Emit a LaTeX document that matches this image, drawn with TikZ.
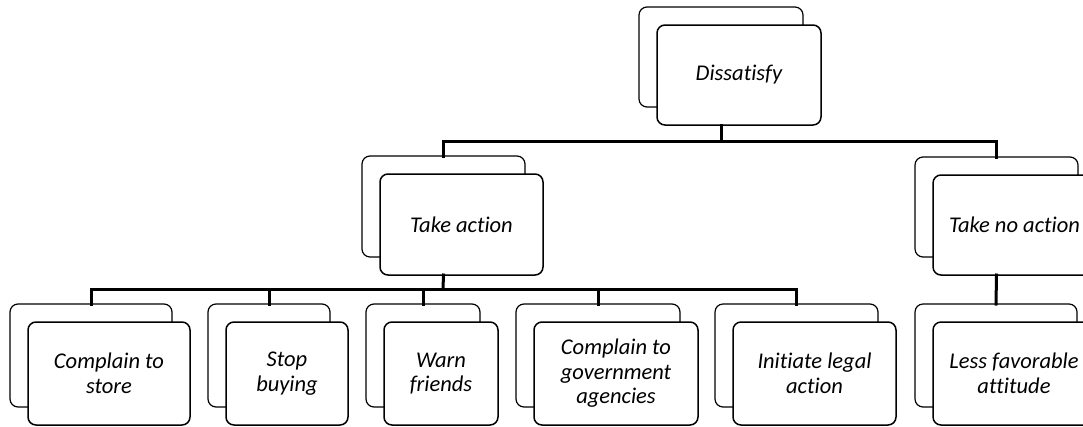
\documentclass[tikz,border=0pt]{standalone}
\usepackage{fontspec}
\setmainfont{Carlito}[Ligatures=NoCommon]
\usetikzlibrary{calc}
\tikzset{
  backbox/.style={draw=black, line width=1.2pt, rounded corners=8pt, fill=white, inner sep=0pt},
  frontbox/.style={draw=black, line width=1.5pt, rounded corners=8pt, fill=white, inner sep=0pt},
  lbl/.style={font=\itshape\fontsize{22.5}{24.5}\selectfont, align=center, inner sep=0pt},
  conn/.style={line width=3pt, line cap=rect}
}
\newcommand{\twobox}[6]{% name, backx1, backy1, backx2, backy2, text
  \draw[backbox] (#2,#3) rectangle (#4,#5);
  \node[inner sep=0pt, minimum width=0pt] (#1-b) at ({(#2+#4)/2},{(#3+#5)/2}) {};
  \coordinate (#1-bn) at ({(#2+#4)/2},#3);
  \draw[frontbox] ({#2+18},{#3+18}) rectangle ({#4+18},{#5+18});
  \coordinate (#1-fs) at ({(#2+#4)/2},{#5+18});
  \node[lbl] (#1) at ({(#2+#4)/2+18},{(#3+#5)/2+18}) {#6};
}
\begin{document}
\begin{tikzpicture}[x=1pt,y=-1pt]
\useasboundingbox (0,0) rectangle (1083,426);
\clip (0,0) rectangle (1083,426);
% boxes
\twobox{dis}{639}{7}{803}{107}{Dissatisfy}
\twobox{ta}{362}{156}{525}{257}{Take action}
\twobox{tna}{915}{157}{1078}{257}{Take no action}
\twobox{c1}{10}{304}{172}{407}{Complain to\\store}
\twobox{c2}{208}{304}{330}{407}{Stop\\buying}
\twobox{c3}{366}{304}{480}{407}{Warn\\friends}
\twobox{c4}{516}{304}{680}{407}{Complain to\\government\\agencies}
\twobox{c5}{715}{304}{878}{407}{Initiate legal\\action}
\twobox{c6}{915}{304}{1077}{407}{Less favorable\\attitude}
% junctions
\coordinate (j1) at (721,141);
\coordinate (j2) at (443,289);
% connectors
\draw[conn] (dis-fs) -- (j1);
\draw[conn] (ta-bn) |- (j1);
\draw[conn] (tna-bn) |- (j1);
\draw[conn] (ta-fs) -- (j2);
\draw[conn] (c1-bn) |- (j2);
\draw[conn] (c2-bn) |- (j2);
\draw[conn] (c3-bn) |- (j2);
\draw[conn] (c4-bn) |- (j2);
\draw[conn] (c5-bn) |- (j2);
\draw[conn] (tna-fs) -- (c6-bn);
\end{tikzpicture}
\end{document}
